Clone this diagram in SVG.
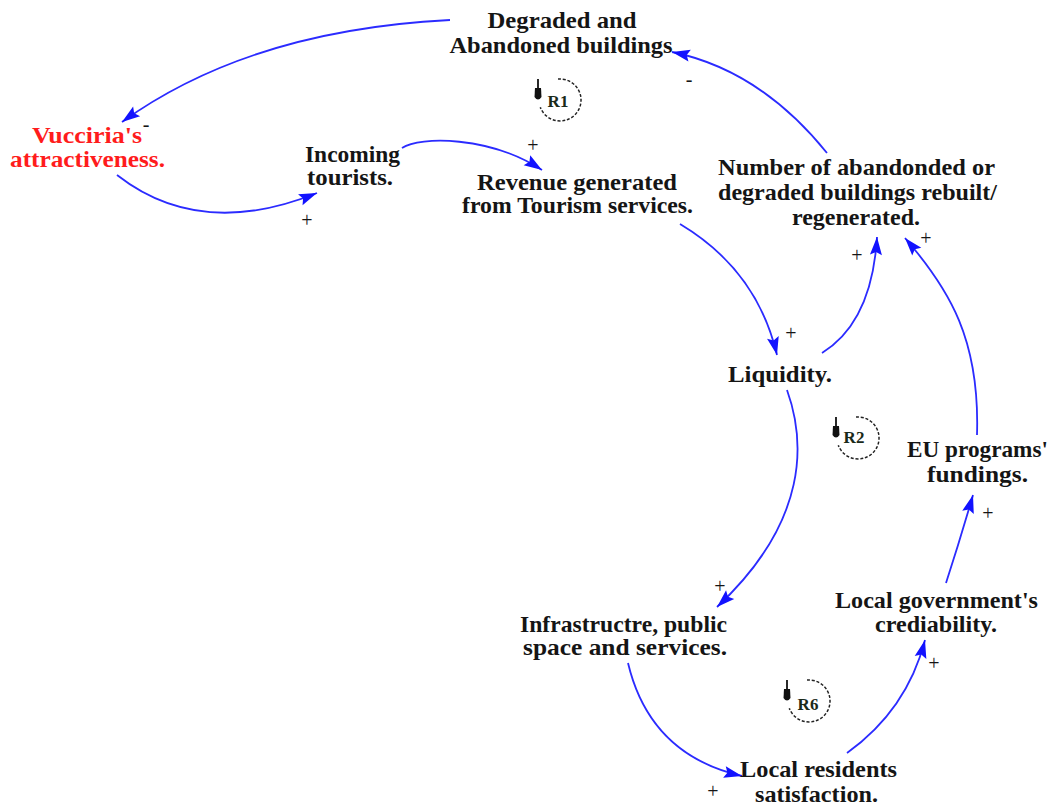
<svg xmlns="http://www.w3.org/2000/svg" width="1049" height="806" viewBox="0 0 1049 806">
  <style>
    .lbl { font-family: "Liberation Serif", "Times New Roman", serif; font-weight: bold; font-size: 23px; fill: #151515; text-anchor: middle; }
    .red { fill: #ff1c1c; }
    .pol { font-family: "Liberation Serif", "Times New Roman", serif; font-size: 20px; fill: #151515; text-anchor: middle; }
    .loopname { font-family: "Liberation Serif", "Times New Roman", serif; font-weight: bold; font-size: 17px; fill: #1a2a1a; text-anchor: middle; }
    .link { fill: none; stroke: #2b2bff; stroke-width: 1.8; marker-end: url(#head); }
    .ring { fill: none; stroke: #222; stroke-width: 1.5; stroke-dasharray: 3 1.8; }
  </style>
  <defs>
    <marker id="head" markerUnits="userSpaceOnUse" markerWidth="20" markerHeight="14" refX="18" refY="6" orient="auto" overflow="visible">
      <path d="M0,0 L18,6 L0,12 L3,6 z" fill="#1212ff"/>
    </marker>
    <!-- loop marker: dashed ring with a small direction pin on the left -->
    <g id="loop">
      <path class="ring" d="M-2,-20.9 A21,21 0 1 1 -19.7,7.2"/>
      <line x1="-22" y1="-21" x2="-22" y2="-9" stroke="#111" stroke-width="1.8"/>
      <path d="M-25,-12 L-19,-12 L-18.5,-3 Q-22,2 -25.5,-3 z" fill="#111"/>
    </g>
  </defs>

  <!-- connectors -->
  <g id="links">
    <path class="link" d="M450,20 Q250,30 122,122"/>
    <path class="link" d="M117,175 Q200,240 317,193"/>
    <path class="link" d="M402,148 C420,136 490,136 542,170"/>
    <path class="link" d="M680,224 Q757,270 777,355"/>
    <path class="link" d="M822,353 Q872,322 877,237"/>
    <path class="link" d="M977,435 C980,340 950,290 905,238"/>
    <path class="link" d="M827,153 Q760,70 672,52"/>
    <path class="link" d="M787,390 C805,440 810,520 717,607"/>
    <path class="link" d="M628,663 Q650,755 742,776"/>
    <path class="link" d="M847,753 Q907,710 925,640"/>
    <path class="link" d="M946,583 Q960,540 973,495"/>
  </g>

  <!-- polarity signs -->
  <g id="polarities">
    <text class="pol" x="146" y="131" font-size="15">-</text>
    <text class="pol" x="307" y="227">+</text>
    <text class="pol" x="533" y="152">+</text>
    <text class="pol" x="689" y="86">-</text>
    <text class="pol" x="791" y="340">+</text>
    <text class="pol" x="857" y="262">+</text>
    <text class="pol" x="926" y="245">+</text>
    <text class="pol" x="720" y="593">+</text>
    <text class="pol" x="713" y="798">+</text>
    <text class="pol" x="934" y="670">+</text>
    <text class="pol" x="988" y="520">+</text>
  </g>

  <!-- loop markers -->
  <g id="loop-R1">
    <use href="#loop" x="560" y="100"/>
    <text class="loopname" x="558" y="107">R1</text>
  </g>
  <g id="loop-R2">
    <use href="#loop" x="858" y="438"/>
    <text class="loopname" x="854" y="443">R2</text>
  </g>
  <g id="loop-R6">
    <use href="#loop" x="809" y="701"/>
    <text class="loopname" x="808" y="710">R6</text>
  </g>

  <!-- nodes -->
  <g id="degraded-buildings">
    <text class="lbl" x="562" y="28" textLength="149" lengthAdjust="spacingAndGlyphs">Degraded and</text>
    <text class="lbl" x="561" y="53" textLength="223" lengthAdjust="spacingAndGlyphs">Abandoned buildings</text>
  </g>
  <g id="attractiveness">
    <text class="lbl red" x="87" y="143" textLength="110" lengthAdjust="spacingAndGlyphs">Vucciria's</text>
    <text class="lbl red" x="87.5" y="167" textLength="155" lengthAdjust="spacingAndGlyphs">attractiveness.</text>
  </g>
  <g id="incoming-tourists">
    <text class="lbl" x="352.5" y="162" textLength="95" lengthAdjust="spacingAndGlyphs">Incoming</text>
    <text class="lbl" x="350" y="185" textLength="86" lengthAdjust="spacingAndGlyphs">tourists.</text>
  </g>
  <g id="tourism-revenue">
    <text class="lbl" x="577" y="190" textLength="200" lengthAdjust="spacingAndGlyphs">Revenue generated</text>
    <text class="lbl" x="577.5" y="213" textLength="231" lengthAdjust="spacingAndGlyphs">from Tourism services.</text>
  </g>
  <g id="buildings-rebuilt">
    <text class="lbl" x="856.5" y="175" textLength="277" lengthAdjust="spacingAndGlyphs">Number of abandonded or</text>
    <text class="lbl" x="857.5" y="200" textLength="279" lengthAdjust="spacingAndGlyphs">degraded buildings rebuilt/</text>
    <text class="lbl" x="856" y="225" textLength="128" lengthAdjust="spacingAndGlyphs">regenerated.</text>
  </g>
  <g id="liquidity">
    <text class="lbl" x="780" y="382" textLength="104" lengthAdjust="spacingAndGlyphs">Liquidity.</text>
  </g>
  <g id="eu-fundings">
    <text class="lbl" x="977.5" y="457" textLength="141" lengthAdjust="spacingAndGlyphs">EU programs'</text>
    <text class="lbl" x="977.5" y="482" textLength="101" lengthAdjust="spacingAndGlyphs">fundings.</text>
  </g>
  <g id="government-credibility">
    <text class="lbl" x="936.5" y="608" textLength="203" lengthAdjust="spacingAndGlyphs">Local government's</text>
    <text class="lbl" x="936" y="632" textLength="122" lengthAdjust="spacingAndGlyphs">crediability.</text>
  </g>
  <g id="infrastructure">
    <text class="lbl" x="623.5" y="632" textLength="207" lengthAdjust="spacingAndGlyphs">Infrastructre, public</text>
    <text class="lbl" x="625" y="655" textLength="204" lengthAdjust="spacingAndGlyphs">space and services.</text>
  </g>
  <g id="residents-satisfaction">
    <text class="lbl" x="818.5" y="777" textLength="157" lengthAdjust="spacingAndGlyphs">Local residents</text>
    <text class="lbl" x="816.5" y="802" textLength="123" lengthAdjust="spacingAndGlyphs">satisfaction.</text>
  </g>
</svg>
